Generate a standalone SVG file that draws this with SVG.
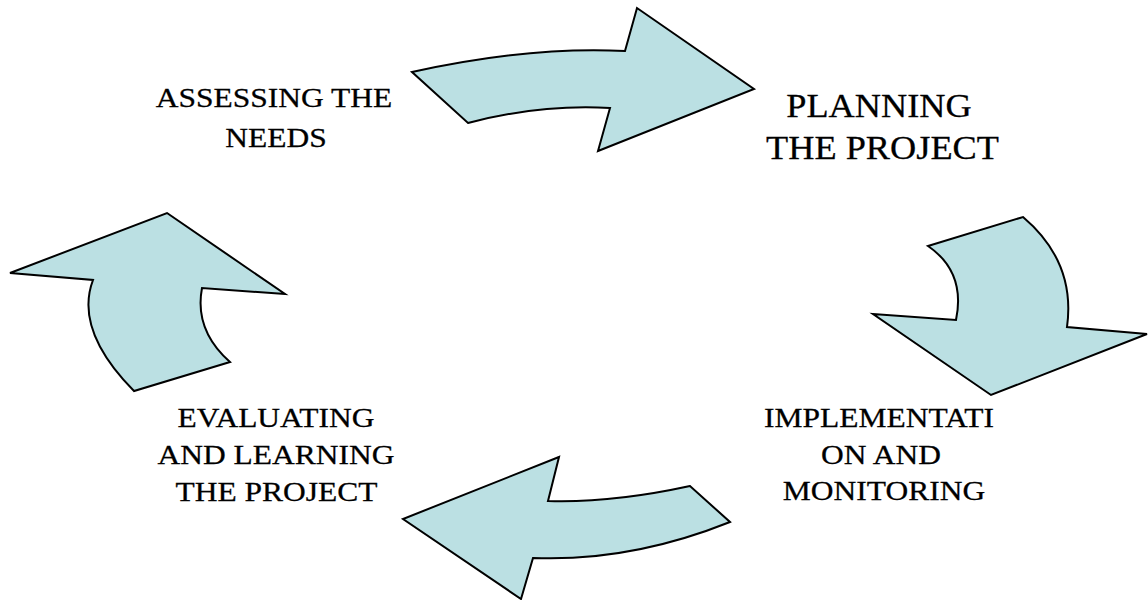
<svg xmlns="http://www.w3.org/2000/svg" width="1148" height="600" viewBox="0 0 1148 600">
<style>
.arrow{fill:#BBE0E3;stroke:#000;stroke-width:2;stroke-linejoin:miter}
.lbl{font-family:"Liberation Serif","Times New Roman",serif;font-size:31.5px;fill:#000;stroke:#000;stroke-width:0.3;text-anchor:middle}
.big{font-size:36.3px}
</style>
<rect width="1148" height="600" fill="#fff"/>
<g id="connectors">
<path id="arrow-top" class="arrow" d="M412,72 Q530,46 625,51 L637,8 L754,89 L598,151 L610,108 Q540,104 468,123 Z"/>
<path id="arrow-right" class="arrow" d="M928,246 L1023,217 Q1076,262 1067,327 L1147,334 L991,395 L873,314 L956,320 Q966,272 928,246 Z"/>
<path id="arrow-bottom" class="arrow" d="M559,457 L548,501 Q612,503 690,486 L730,522 Q630,562 533,558 L521,599 L403,519 Z"/>
<path id="arrow-left" class="arrow" d="M167,213 L285,294 L202,288 Q194,330 230,362 L134,391 Q74,330 93,280 L10,273 Z"/>
</g>
<g id="node-assessing">
<text class="lbl" transform="translate(274 107) scale(1 0.88)">ASSESSING THE</text>
<text class="lbl" transform="translate(276 146.5) scale(1 0.88)">NEEDS</text>
</g>
<g id="node-planning">
<text class="lbl big" transform="translate(879 116.5) scale(1 0.94)">PLANNING</text>
<text class="lbl big" transform="translate(882.5 159) scale(1 0.94)">THE PROJECT</text>
</g>
<g id="node-implementation">
<text class="lbl" transform="translate(879 426.5) scale(1 0.88)">IMPLEMENTATI</text>
<text class="lbl" transform="translate(881 463.5) scale(1 0.88)">ON AND</text>
<text class="lbl" transform="translate(884 500) scale(1 0.88)">MONITORING</text>
</g>
<g id="node-evaluating">
<text class="lbl" transform="translate(276 426.5) scale(1 0.88)">EVALUATING</text>
<text class="lbl" transform="translate(276 463.5) scale(1 0.88)">AND LEARNING</text>
<text class="lbl" transform="translate(276.5 501) scale(1 0.88)">THE PROJECT</text>
</g>
</svg>
